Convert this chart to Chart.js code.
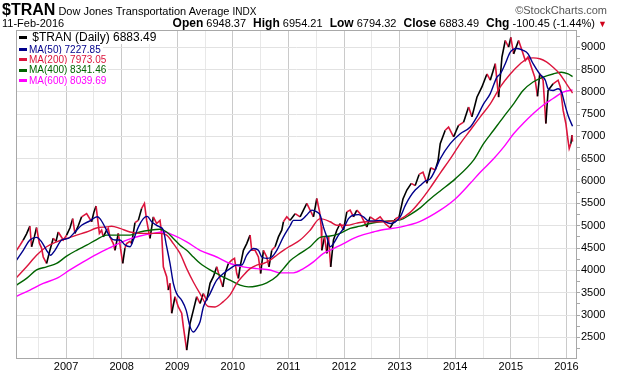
<!DOCTYPE html>
<html>
<head>
<meta charset="utf-8">
<script src="https://cdn.jsdelivr.net/npm/chart.js@4.4.1/dist/chart.umd.min.js"></script>
<style>
  body { margin: 0; background: #fff; font-family: 'Liberation Sans', Arial, sans-serif; }
  #wrap { position: relative; width: 620px; height: 376px; overflow: hidden; }
  canvas { position: absolute; left: 0; top: 0; }
  .t { position: absolute; white-space: nowrap; color: #000; font-size: 11px; line-height: 12px; }
  .t b { font-size: 12px; margin-left: 4px; }
  .t b:first-child { margin-left: 0; }
  .lg { position: absolute; left: 17px; background: #fff; white-space: nowrap; font-size: 10px; line-height: 11px; padding-right: 2px; }
  .sw { display: inline-block; width: 8px; height: 3px; vertical-align: middle; margin: 0 2px 0 2px; }
</style>
</head>
<body>
<div id="wrap">
  <canvas id="chart" width="620" height="376"></canvas>

  <div class="t" style="left:2px;top:2px;line-height:16px;">
    <b style="font-size:16px;">$TRAN</b> <span style="font-size:11px;">Dow Jones Transportation Average</span> <span style="font-size:10px;">INDX</span>
  </div>
  <div class="t" style="right:13px;top:4px;color:#555;">&copy;StockCharts.com</div>
  <div class="t" style="left:2px;top:17px;">11-Feb-2016</div>
  <div class="t" style="right:13px;top:17px;">
    <b>Open</b> 6948.37 <b>High</b> 6954.21 <b>Low</b> 6794.32 <b>Close</b> 6883.49 <b>Chg</b> -100.45 (-1.44%) <span style="color:#d0021b;font-size:9px;">&#9660;</span>
  </div>

  <div class="lg" style="top:31px;font-size:12px;line-height:13px;"><span class="sw" style="background:#000;"></span> $TRAN (Daily) 6883.49</div>
  <div class="lg" style="top:43.5px;color:#00008b;"><span class="sw" style="background:#00008b;"></span>MA(50) 7227.85</div>
  <div class="lg" style="top:53.5px;color:#dc143c;"><span class="sw" style="background:#dc143c;"></span>MA(200) 7973.05</div>
  <div class="lg" style="top:64px;color:#006400;"><span class="sw" style="background:#006400;"></span>MA(400) 8341.46</div>
  <div class="lg" style="top:74.5px;color:#ff00ff;"><span class="sw" style="background:#ff00ff;"></span>MA(600) 8039.69</div>
</div>

<script>
// tick labels
const years = [2007, 2008, 2009, 2010, 2011, 2012, 2013, 2014, 2015, 2016];
const yLabels = [2500, 3000, 3500, 4000, 4500, 5000, 5500, 6000, 6500, 7000, 7500, 8000, 8500, 9000];

// $TRAN daily close (decimal years)
const priceT = [
  2006.11, 2006.17, 2006.23, 2006.29, 2006.35, 2006.38, 2006.43, 2006.47, 2006.52, 2006.56, 2006.59, 2006.65, 2006.71, 2006.77, 2006.82, 2006.86, 2006.95,
  2007.01, 2007.07, 2007.12, 2007.16, 2007.22, 2007.28, 2007.37, 2007.46, 2007.50, 2007.54, 2007.60, 2007.64, 2007.67, 2007.73, 2007.76, 2007.79, 2007.85, 2007.88, 2007.94,
  2008.02, 2008.06, 2008.09, 2008.15, 2008.18, 2008.24, 2008.30, 2008.36, 2008.41, 2008.45, 2008.51, 2008.57, 2008.63, 2008.69, 2008.72, 2008.75, 2008.81, 2008.84, 2008.87, 2008.90, 2008.96,
  2009.02, 2009.08, 2009.11, 2009.17, 2009.23, 2009.29, 2009.35, 2009.41, 2009.47, 2009.53, 2009.59, 2009.65, 2009.71, 2009.77, 2009.82, 2009.86, 2009.92, 2009.98,
  2010.03, 2010.07, 2010.10, 2010.13, 2010.19, 2010.25, 2010.31, 2010.34, 2010.40, 2010.46, 2010.50, 2010.55, 2010.61, 2010.65, 2010.70, 2010.76, 2010.82, 2010.88, 2010.91, 2010.97,
  2011.03, 2011.12, 2011.21, 2011.27, 2011.33, 2011.39, 2011.45, 2011.51, 2011.56, 2011.59, 2011.60, 2011.65, 2011.69, 2011.72, 2011.76, 2011.81, 2011.87, 2011.93, 2011.99,
  2012.05, 2012.11, 2012.17, 2012.23, 2012.29, 2012.35, 2012.41, 2012.47, 2012.56, 2012.65, 2012.74, 2012.83, 2012.92, 2012.99,
  2013.06, 2013.13, 2013.21, 2013.28, 2013.35, 2013.42, 2013.49, 2013.56, 2013.64, 2013.69, 2013.73, 2013.82, 2013.88, 2013.97,
  2014.06, 2014.15, 2014.24, 2014.30, 2014.39, 2014.48, 2014.57, 2014.63, 2014.72, 2014.78, 2014.84, 2014.90, 2014.96,
  2015.00, 2015.05, 2015.14, 2015.20, 2015.26, 2015.31, 2015.37, 2015.43, 2015.48, 2015.52, 2015.58, 2015.63, 2015.67, 2015.76, 2015.85, 2015.89, 2015.94, 2015.99,
  2016.02, 2016.05, 2016.08, 2016.10, 2016.11
];
const price = [
  4450, 4560, 4680, 4820, 4990, 4530, 4750, 4960, 4610, 4500, 4300, 4155, 4450, 4720, 4650, 4860, 4680,
  4790, 4950, 5160, 4830, 5000, 5200, 5270, 5090, 5300, 5440, 4830, 4900, 4750, 4900, 4940, 4750, 4600, 4450, 4830,
  4155, 4500, 4600, 4650, 4600, 5070, 5120, 5390, 5500, 5120, 4715, 5200, 5050, 5120, 4830, 4080, 3860, 3560, 3710, 3040, 3410,
  3180, 3040, 2740, 2216, 2810, 3110, 3410, 3260, 3480, 3330, 3710, 3860, 4080, 3820, 3630, 3930, 4155, 4230,
  4270, 3930, 3820, 4080, 4450, 4600, 4790, 4450, 4450, 4300, 3930, 4450, 4300, 4080, 4450, 4530, 4750, 4900, 5090, 5200,
  5120, 5270, 5200, 5350, 5500, 5350, 5200, 5610, 5310, 4970, 4450, 4750, 4380, 4750, 4080, 4680, 4900, 5050, 4900,
  5310, 5350, 5200, 5350, 5270, 5120, 4970, 5200, 5120, 5200, 5050, 4950, 5150, 5200,
  5600, 5800, 5950, 5900, 6150, 6200, 5950, 6300, 6250, 6450, 6840, 7140, 7210, 6990,
  7250, 7320, 7660, 7440, 7880, 8110, 8400, 8260, 8630, 7880, 8780, 9150, 9000,
  9220, 8850, 9150, 8930, 8700, 8780, 8550, 8330, 7900, 8400, 8260, 7290, 8030, 8180, 8260, 8110, 7590, 7290,
  6990, 6730, 6840, 7030, 6883
];

// MA(50)
const ma50T = [
  2006.11, 2006.23, 2006.35, 2006.47, 2006.56, 2006.65, 2006.72, 2006.80, 2006.92,
  2007.04, 2007.16, 2007.28, 2007.43, 2007.56, 2007.61, 2007.70, 2007.79, 2007.88, 2007.97,
  2008.06, 2008.15, 2008.21, 2008.30, 2008.39, 2008.46, 2008.54, 2008.63, 2008.69, 2008.75, 2008.81, 2008.87, 2008.93, 2008.99,
  2009.08, 2009.16, 2009.23, 2009.29, 2009.35, 2009.41, 2009.47, 2009.59, 2009.71, 2009.83, 2009.95,
  2010.07, 2010.16, 2010.25, 2010.37, 2010.46, 2010.52, 2010.61, 2010.70, 2010.79, 2010.91,
  2011.03, 2011.09, 2011.21, 2011.33, 2011.42, 2011.51, 2011.57, 2011.63, 2011.69, 2011.75, 2011.81, 2011.90, 2011.99,
  2012.08, 2012.17, 2012.26, 2012.35, 2012.44, 2012.53, 2012.65, 2012.83,
  2013.01, 2013.10, 2013.19, 2013.28, 2013.37, 2013.46, 2013.55, 2013.64, 2013.73, 2013.91,
  2014.09, 2014.27, 2014.39, 2014.51, 2014.63, 2014.75, 2014.81, 2014.90, 2014.99,
  2015.11, 2015.22, 2015.31, 2015.40, 2015.52, 2015.62, 2015.67, 2015.76, 2015.85, 2015.91, 2015.97,
  2016.03, 2016.11
];
const ma50 = [
  4230, 4450, 4680, 4740, 4640, 4450, 4340, 4450, 4680,
  4715, 4860, 5010, 5110, 5200, 5160, 4970, 4750, 4680, 4680,
  4570, 4530, 4680, 4970, 5160, 5210, 5090, 5010, 4970, 4900, 4530, 4155, 3710, 3480,
  3330, 3110, 2740, 2620, 2700, 2850, 3180, 3480, 3780, 3930, 4040,
  4120, 4120, 4340, 4490, 4450, 4300, 4270, 4300, 4450, 4750,
  5000, 5120, 5120, 5240, 5350, 5310, 5240, 4970, 4750, 4530, 4600, 4790, 4940,
  5160, 5240, 5250, 5200, 5110, 5110, 5120, 5050,
  5200, 5450, 5650, 5800, 5900, 6000, 6050, 6250, 6500, 6840,
  7060, 7210, 7440, 7730, 7960, 8330, 8400, 8630, 8890,
  8970, 8930, 8850, 8630, 8400, 8260, 8070, 8030, 8070, 8000, 7730,
  7470, 7228
];

// MA(200)
const ma200T = [
  2006.11, 2006.29, 2006.47, 2006.65, 2006.83,
  2007.01, 2007.19, 2007.37, 2007.55, 2007.73, 2007.82, 2007.97,
  2008.15, 2008.33, 2008.51, 2008.69, 2008.81, 2008.93,
  2009.05, 2009.17, 2009.29, 2009.41, 2009.56, 2009.68, 2009.83, 2009.95,
  2010.07, 2010.19, 2010.31, 2010.43, 2010.55, 2010.67, 2010.79, 2010.91,
  2011.03, 2011.21, 2011.39, 2011.57, 2011.75, 2011.87,
  2012.05, 2012.23, 2012.41, 2012.65, 2012.83,
  2013.01, 2013.19, 2013.37, 2013.55, 2013.73, 2013.91,
  2014.09, 2014.27, 2014.45, 2014.63, 2014.81, 2014.99,
  2015.17, 2015.29, 2015.40, 2015.52, 2015.64, 2015.76, 2015.88,
  2016.00, 2016.11
];
const ma200 = [
  3840, 4080, 4340, 4530, 4640,
  4715, 4790, 4860, 4950, 4975, 4990, 4940,
  4860, 4830, 4830, 4830, 4790, 4600,
  4380, 4040, 3740, 3480, 3190, 3180, 3300, 3450,
  3710, 3890, 4040, 4120, 4155, 4230, 4340, 4450,
  4545, 4680, 4900, 5160, 5090, 5010,
  5010, 5060, 5090, 5090, 5100,
  5150, 5300, 5550, 5850, 6180, 6500,
  6840, 7140, 7440, 7730, 8110, 8400,
  8630, 8740, 8760, 8740, 8670, 8550, 8400,
  8180, 7973
];

// MA(400)
const ma400T = [
  2006.11, 2006.29, 2006.47, 2006.65, 2006.83,
  2007.01, 2007.19, 2007.37, 2007.55, 2007.73, 2007.97,
  2008.15, 2008.33, 2008.51, 2008.69, 2008.81, 2008.93,
  2009.05, 2009.17, 2009.29, 2009.41, 2009.59, 2009.77, 2009.95,
  2010.13, 2010.28, 2010.43, 2010.61, 2010.79, 2010.91,
  2011.03, 2011.21, 2011.39, 2011.57, 2011.75, 2011.93,
  2012.11, 2012.29, 2012.47, 2012.65, 2012.83,
  2013.01, 2013.19, 2013.37, 2013.55, 2013.73,
  2014.00, 2014.33, 2014.51, 2014.69, 2014.87,
  2015.05, 2015.22, 2015.40, 2015.58, 2015.76, 2015.91,
  2016.03, 2016.11
];
const ma400 = [
  3670, 3820, 4010, 4080, 4155,
  4320, 4450, 4565, 4690, 4790, 4790,
  4790, 4860, 4900, 4920, 4860, 4715,
  4565, 4450, 4300, 4160, 4010, 3890, 3780,
  3670, 3630, 3650, 3720, 3870, 4040,
  4215, 4380, 4530, 4740, 4770, 4830,
  4940, 4990, 5050, 5090, 5110,
  5130, 5250, 5400, 5600, 5780,
  6050, 6470, 6840, 7140, 7440,
  7730, 8030, 8220, 8330, 8400, 8440,
  8400, 8341
];

// MA(600)
const ma600T = [
  2006.11, 2006.35, 2006.59, 2006.83,
  2007.07, 2007.31, 2007.55, 2007.79,
  2008.09, 2008.33, 2008.57, 2008.75, 2008.93,
  2009.17, 2009.41, 2009.71, 2009.95,
  2010.19, 2010.43, 2010.67, 2010.85,
  2011.09, 2011.27, 2011.45, 2011.63, 2011.81, 2011.99,
  2012.17, 2012.35, 2012.53, 2012.65,
  2013.01, 2013.37, 2013.73,
  2014.00, 2014.27, 2014.45, 2014.69, 2014.87,
  2015.05, 2015.22, 2015.40, 2015.58, 2015.76, 2015.94,
  2016.11
];
const ma600 = [
  3420, 3560, 3710, 3820,
  4010, 4190, 4360, 4510,
  4680, 4770, 4830, 4860, 4790,
  4640, 4450, 4300, 4155,
  4080, 4040, 4010, 3945,
  3945, 4040, 4190, 4380, 4490, 4600,
  4715, 4800, 4860, 4900,
  4970, 5100, 5350,
  5600, 5950, 6200, 6500, 6760,
  7060, 7290, 7510, 7700, 7850, 7995,
  8040
];

const RED = '#dc143c';
const pts = (t, v) => t.map((x, i) => ({ x: x, y: v[i] }));

// draws the box round the plot area
const frame = {
  id: 'frame',
  afterDatasetsDraw(chart) {
    const a = chart.chartArea, g = chart.ctx;
    g.save();
    g.strokeStyle = '#a8a8a8';
    g.lineWidth = 1;
    g.strokeRect(a.left + 0.5, a.top + 0.5, a.right - a.left - 1, a.bottom - a.top - 1);
    g.restore();
  }
};

const maLine = (data, color, order) => ({
  data: data,
  borderColor: color,
  borderWidth: 1.4,
  pointRadius: 0,
  tension: 0.4,
  cubicInterpolationMode: 'monotone',
  order: order
});

Chart.defaults.font.family = "'Liberation Sans', Arial, sans-serif";

new Chart(document.getElementById('chart').getContext('2d'), {
  type: 'line',
  data: {
    datasets: [
      maLine(pts(ma50T, ma50), '#00008b', 0),
      maLine(pts(ma200T, ma200), RED, 1),
      maLine(pts(ma400T, ma400), '#006400', 2),
      maLine(pts(ma600T, ma600), '#ff00ff', 3),
      {
        data: pts(priceT, price),
        borderColor: RED,
        borderWidth: 1.6,
        pointRadius: 0,
        tension: 0,
        order: 4,
        // strong up-moves show as black bars, the rest red
        segment: {
          borderColor: c => c.p1.parsed.y - c.p0.parsed.y > 120 ? '#000' : RED
        }
      }
    ]
  },
  options: {
    responsive: false,
    animation: false,
    events: [],
    layout: { padding: { left: 16, top: 30, right: 0, bottom: 0 } },
    plugins: { legend: { display: false }, tooltip: { enabled: false } },
    scales: {
      x: {
        type: 'linear',
        min: 2006.10,
        max: 2016.19,
        afterBuildTicks: s => {
          s.ticks = years.flatMap(y => [y - 0.5, y]).map(v => ({ value: v }));
        },
        afterFit: s => { s.height = 17; },
        border: { display: false },
        grid: {
          color: c => c.tick && c.tick.value % 1 === 0 ? '#cacaca' : '#e8e8e8',
          drawTicks: false
        },
        ticks: {
          autoSkip: false,
          maxRotation: 0,
          padding: 1,
          color: '#000',
          font: { size: 11 },
          callback: v => years.includes(v) ? String(v) : ''
        }
      },
      y: {
        type: 'linear',
        position: 'right',
        min: 2015,
        max: 9385,
        afterBuildTicks: s => {
          const t = [];
          for (let v = 2250; v <= 9250; v += 250) t.push({ value: v });
          s.ticks = t;
        },
        afterFit: s => { s.width = 43; },
        border: { display: false },
        grid: {
          color: c => c.tick && c.tick.value % 500 === 0 ? '#e2e2e2' : 'rgba(0,0,0,0)',
          tickColor: '#a8a8a8',
          tickLength: 3
        },
        ticks: {
          autoSkip: false,
          padding: 1,
          color: '#000',
          font: { size: 11 },
          callback: v => yLabels.includes(v) ? String(v) : ''
        }
      }
    }
  },
  plugins: [frame]
});
</script>
</body>
</html>
